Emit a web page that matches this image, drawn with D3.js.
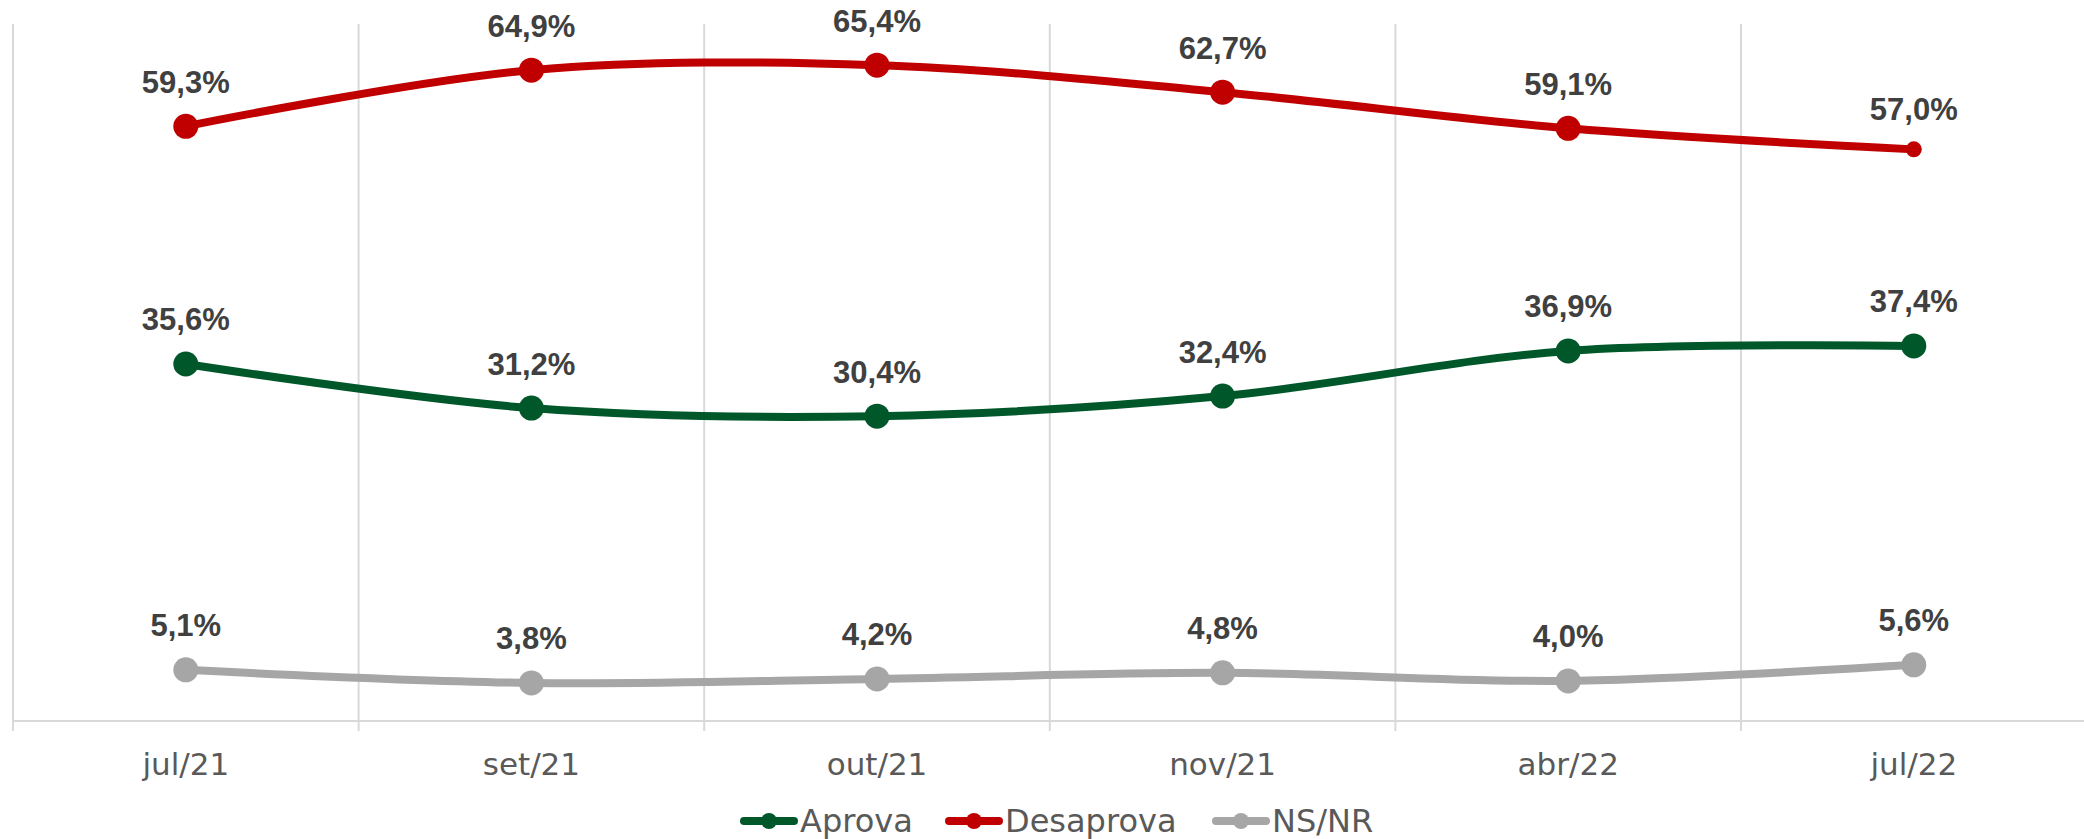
<!DOCTYPE html>
<html>
<head>
<meta charset="utf-8">
<script src="https://cdn.jsdelivr.net/npm/d3@7"></script>
<style>
  html, body { margin: 0; padding: 0; background: #ffffff; }
  svg { display: block; }
</style>
</head>
<body>
<div id="chart"></div>
<script>
// ---- Data ----
const categories = ["jul/21", "set/21", "out/21", "nov/21", "abr/22", "jul/22"];
const aprova     = [35.6, 31.2, 30.4, 32.4, 36.9, 37.4];
const desaprova  = [59.3, 64.9, 65.4, 62.7, 59.1, 57.0];
const nsnr       = [5.1, 3.8, 4.2, 4.8, 4.0, 5.6];
const seriesNames = ["Aprova", "Desaprova", "NS/NR"];
const seriesColors = ["#00582A", "#C00000", "#A6A6A6"];

// ---- Layout ----
const W = 2084, H = 839;
const plotLeft = 13, plotRight = 13 + 6 * 345.6;
const plotTop = 19, plotBottom = 721;
const gridTop = 24;

const svg = d3.select("#chart").append("svg")
  .attr("width", W).attr("height", H);

const x = d3.scaleBand().domain(categories).range([plotLeft, plotRight]).padding(0);
const y = d3.scaleLinear().domain([0, 70]).range([plotBottom, plotTop]);
const cx = c => x(c) + x.bandwidth() / 2;

// vertical gridlines at band boundaries
const bounds = categories.map(c => x(c)).concat([plotRight]);
svg.append("g").selectAll("line").data(bounds).join("line")
  .attr("x1", d => d).attr("x2", d => d)
  .attr("y1", gridTop).attr("y2", plotBottom + 10)
  .attr("stroke", "#D9D9D9").attr("stroke-width", 2);

// x axis baseline and labels
const xAxis = d3.axisBottom(x).tickSize(0).tickPadding(32);
const gx = svg.append("g").attr("transform", `translate(0,${plotBottom})`).call(xAxis);
gx.select(".domain").attr("stroke", "#D9D9D9").attr("stroke-width", 2)
  .attr("d", `M${plotLeft},0H${W}`);
gx.selectAll("text")
  .attr("font-family", "'Century Gothic', 'DejaVu Sans', sans-serif")
  .attr("font-size", 31)
  .attr("fill", "#595959");

// series
const allSeries = [aprova, desaprova, nsnr];
const line = d3.line()
  .x((d, i) => cx(categories[i]))
  .y(d => y(d))
  .curve(d3.curveCatmullRom.alpha(0.5));

allSeries.forEach((vals, si) => {
  const g = svg.append("g");
  g.append("path").datum(vals)
    .attr("d", line)
    .attr("fill", "none")
    .attr("stroke", seriesColors[si])
    .attr("stroke-width", 8)
    .attr("stroke-linecap", "round");
  const rOf = (i) => (si === 1 && i === vals.length - 1) ? 8 : 12.5;
  g.selectAll("circle").data(vals).join("circle")
    .attr("cx", (d, i) => cx(categories[i]))
    .attr("cy", d => y(d))
    .attr("r", (d, i) => rOf(i))
    .attr("fill", seriesColors[si]);
  g.selectAll("text").data(vals).join("text")
    .attr("x", (d, i) => cx(categories[i]))
    .attr("y", (d, i) => y(d) - rOf(i) - 21)
    .attr("text-anchor", "middle")
    .attr("font-family", "'Liberation Sans', Arial, sans-serif")
    .attr("font-weight", "bold")
    .attr("font-size", 31)
    .attr("fill", "#404040")
    .text(d => d.toFixed(1).replace(".", ",") + "%");
});

// legend
const legendSymX = [740, 945, 1212];
const legendY = 821;
const lg = svg.append("g");
seriesNames.forEach((name, i) => {
  const sx = legendSymX[i];
  lg.append("line")
    .attr("x1", sx + 4).attr("x2", sx + 54)
    .attr("y1", legendY).attr("y2", legendY)
    .attr("stroke", seriesColors[i]).attr("stroke-width", 8)
    .attr("stroke-linecap", "round");
  lg.append("circle")
    .attr("cx", sx + 29).attr("cy", legendY).attr("r", 8)
    .attr("fill", seriesColors[i]);
  lg.append("text")
    .attr("x", sx + 60).attr("y", legendY)
    .attr("dy", "0.35em")
    .attr("font-family", "'Century Gothic', 'DejaVu Sans', sans-serif")
    .attr("font-size", 32)
    .attr("fill", "#595959")
    .text(name);
});
</script>
</body>
</html>
